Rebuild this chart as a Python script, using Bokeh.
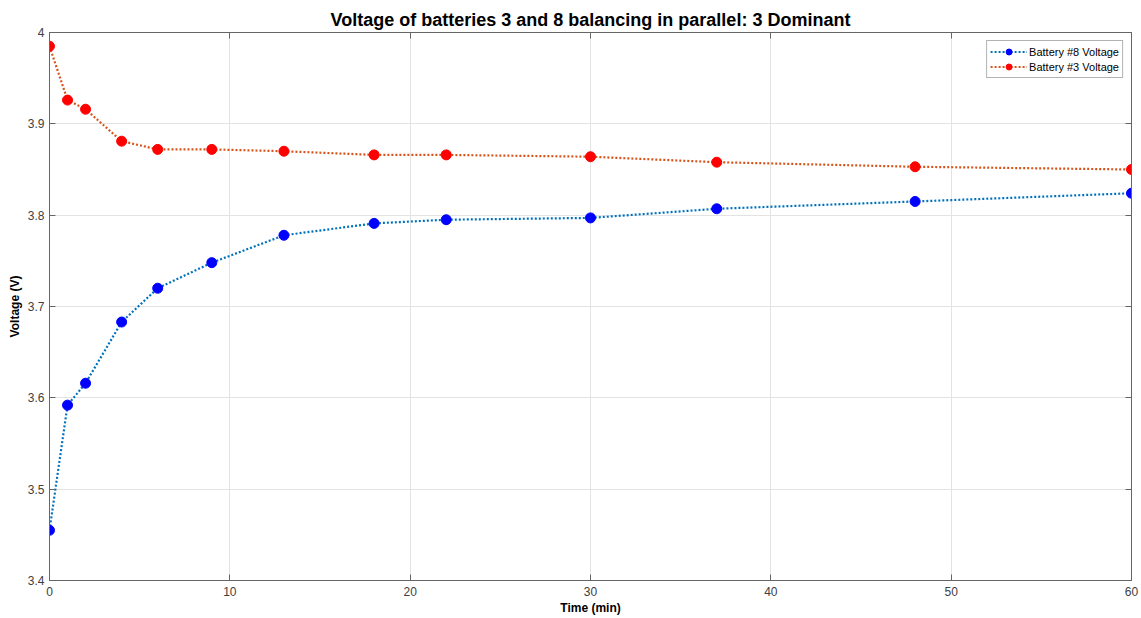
from bokeh.plotting import figure
from bokeh.embed import file_html
from bokeh.resources import INLINE
from bokeh.models import Range1d, FixedTicker, LinearAxis

time_min = [0, 1, 2, 4, 6, 9, 13, 18, 22, 30, 37, 48, 60]
battery8_v = [3.455, 3.592, 3.616, 3.683, 3.720, 3.748, 3.778, 3.791, 3.795, 3.797, 3.807, 3.815, 3.824]
battery3_v = [3.985, 3.926, 3.916, 3.881, 3.872, 3.872, 3.870, 3.866, 3.866, 3.864, 3.858, 3.853, 3.850]
x_ticks = [0, 10, 20, 30, 40, 50, 60]
y_ticks = [3.4, 3.5, 3.6, 3.7, 3.8, 3.9, 4.0]

FONT = "Liberation Sans"
AX = "#666666"
TXT = "#404040"

p = figure(width=1141, height=618, output_backend="svg", toolbar_location=None,
           x_range=Range1d(0, 60), y_range=Range1d(3.4, 4.0),
           title="Voltage of batteries 3 and 8 balancing in parallel: 3 Dominant",
           min_border_left=49, min_border_right=10, min_border_top=32, min_border_bottom=38)

p.title.align = "center"
p.title.text_font = FONT
p.title.text_font_size = "18px"
p.title.text_font_style = "bold"
p.title.text_color = "#000000"
p.title.standoff = 5
p.title.offset = 0

p.outline_line_color = AX
p.outline_line_width = 1
p.outline_line_alpha = 1

xb = p.below[0]
yl = p.left[0]
yr = LinearAxis()
xt = LinearAxis()
p.add_layout(yr, "right")
p.add_layout(xt, "above")

for ax in (xb, yl, yr, xt):
    ax.major_tick_out = 0
    ax.major_tick_in = 6
    ax.minor_tick_out = 0
    ax.minor_tick_in = 0
    ax.axis_line_color = AX
    ax.major_tick_line_color = AX
    ax.major_label_text_font = FONT
    ax.major_label_text_font_size = "12px"
    ax.major_label_text_color = TXT
    ax.axis_label_text_font = FONT
    ax.axis_label_text_font_size = "12px"
    ax.axis_label_text_font_style = "bold"
    ax.axis_label_text_color = "#000000"
    ax.major_label_standoff = 5
    ax.axis_label_standoff = 3

for ax in (xb, xt):
    ax.ticker = FixedTicker(ticks=x_ticks)
for ax in (yl, yr):
    ax.ticker = FixedTicker(ticks=y_ticks)

xb.major_label_standoff = 6
xb.axis_label_standoff = 2
yl.major_label_overrides = {3.4: "3.4", 3.5: "3.5", 3.6: "3.6", 3.7: "3.7", 3.8: "3.8", 3.9: "3.9", 4.0: "4"}
for ax in (xt, yr):
    ax.major_label_text_font_size = "0px"
    ax.major_label_standoff = 0
    ax.major_label_text_alpha = 0
xb.axis_label = "Time (min)"
yl.axis_label = "Voltage (V)"

p.xgrid.grid_line_color = "#e3e3e3"
p.ygrid.grid_line_color = "#e3e3e3"

p.line(time_min, battery8_v, line_color="#0072BD", line_width=2.2, line_dash="2 2",
       legend_label="Battery #8 Voltage")
p.scatter(time_min, battery8_v, size=10, fill_color="#0000FF", line_color="#0000FF",
          legend_label="Battery #8 Voltage")
p.line(time_min, battery3_v, line_color="#D95319", line_width=2.2, line_dash="2 2",
       legend_label="Battery #3 Voltage")
p.scatter(time_min, battery3_v, size=10, fill_color="#FF0000", line_color="#FF0000",
          legend_label="Battery #3 Voltage")

lg = p.legend[0]
lg.location = "top_right"
lg.margin = 8
lg.padding = 3
lg.spacing = 0
lg.label_text_font = FONT
lg.label_text_font_size = "11px"
lg.label_text_color = "#000000"
lg.label_height = 15
lg.glyph_height = 15
lg.glyph_width = 37
lg.label_standoff = 2
lg.border_line_color = AX
lg.border_line_width = 1
lg.background_fill_alpha = 1

open("out.html", "w").write(file_html(p, INLINE))
